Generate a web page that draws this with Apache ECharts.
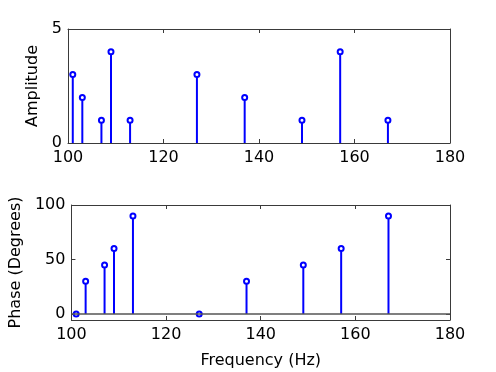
<!DOCTYPE html>
<html>
<head>
<meta charset="utf-8">
<script src="https://cdn.jsdelivr.net/npm/echarts@6/dist/echarts.min.js"></script>
<style>
html,body{margin:0;padding:0;background:#fff;}
#chart{width:496px;height:372px;}
</style>
</head>
<body>
<div id="chart"></div>
<script>
const frequencies = [101, 103, 107, 109, 113, 127, 137, 149, 157, 167];
const amplitudes = [3, 2, 1, 4, 1, 3, 2, 1, 4, 1];
const phases = [0, 30, 45, 60, 90, 0, 30, 45, 60, 90];
const freqTicks = [100, 120, 140, 160, 180];
const ampTicks = [0, 5];
const phaseTicks = [0, 50, 100];

const FONT = 'DejaVu Sans';
const AX = '#3a3a3a';
const BLUE = '#0000ff';

function xAx(grid, pos, labels, name) {
  return {
    type: 'value', gridIndex: grid, position: pos,
    min: freqTicks[0], max: freqTicks[freqTicks.length - 1], interval: 20,
    axisLine: { show: true, onZero: false, lineStyle: { color: AX, width: 1 } },
    axisTick: { show: true, inside: true, length: 4, lineStyle: { color: AX } },
    axisLabel: { show: labels, color: '#000', fontFamily: FONT, fontSize: 16, margin: 7 },
    splitLine: { show: false },
    name: name || '', nameLocation: 'middle', nameGap: 33,
    nameTextStyle: { color: '#000', fontFamily: FONT, fontSize: 16 }
  };
}
function yAx(grid, pos, labels, min, max, ticks, name, gap) {
  return {
    type: 'value', gridIndex: grid, position: pos, min: min, max: max,
    axisLine: { show: true, onZero: false, lineStyle: { color: AX, width: 1 } },
    axisTick: { show: true, inside: true, length: 4, lineStyle: { color: AX }, customValues: ticks },
    axisLabel: { show: labels, color: '#000', fontFamily: FONT, fontSize: 16, margin: 6, customValues: ticks },
    splitLine: { show: false },
    name: name || '', nameLocation: 'middle', nameGap: gap || 0,
    nameTextStyle: { color: '#000', fontFamily: FONT, fontSize: 16 }
  };
}

const ampData = frequencies.map((f, i) => [f, amplitudes[i]]);
const phaseData = frequencies.map((f, i) => [f, phases[i]]);

const option = {
  animation: false,
  backgroundColor: '#fff',
  grid: [
    { left: 68, right: 46, top: 29, height: 114 },
    { left: 68, right: 46, top: 205, height: 115 }
  ],
  xAxis: [
    xAx(0, 'bottom', true),
    xAx(0, 'top', false),
    xAx(1, 'bottom', true, 'Frequency (Hz)'),
    xAx(1, 'top', false)
  ],
  yAxis: [
    yAx(0, 'left', true, 0, 5, ampTicks, 'Amplitude', 23),
    yAx(0, 'right', false, 0, 5, ampTicks),
    yAx(1, 'left', true, -5.5, 100, phaseTicks, 'Phase (Degrees)', 45),
    yAx(1, 'right', false, -5.5, 100, phaseTicks)
  ],
  series: [
    {
      type: 'bar', xAxisIndex: 0, yAxisIndex: 0, data: ampData, barWidth: 2,
      itemStyle: { color: BLUE }, z: 2
    },
    {
      type: 'scatter', xAxisIndex: 0, yAxisIndex: 0, data: ampData,
      symbol: 'emptyCircle', symbolSize: 5,
      itemStyle: { color: BLUE, borderColor: BLUE, borderWidth: 1.5, opacity: 1 }, z: 3
    },
    {
      type: 'bar', xAxisIndex: 2, yAxisIndex: 2, data: phaseData, barWidth: 2,
      itemStyle: { color: BLUE }, z: 2,
      markLine: {
        silent: true, symbol: ['none', 'none'], label: { show: false },
        lineStyle: { color: '#555', width: 1.5, type: 'solid' },
        data: [{ yAxis: 0 }]
      }
    },
    {
      type: 'scatter', xAxisIndex: 2, yAxisIndex: 2, data: phaseData,
      symbol: 'emptyCircle', symbolSize: 5,
      itemStyle: { color: BLUE, borderColor: BLUE, borderWidth: 1.5, opacity: 1 }, z: 3
    }
  ]
};

const chart = echarts.init(document.getElementById('chart'), null, { renderer: 'canvas' });
chart.setOption(option);
</script>
</body>
</html>
